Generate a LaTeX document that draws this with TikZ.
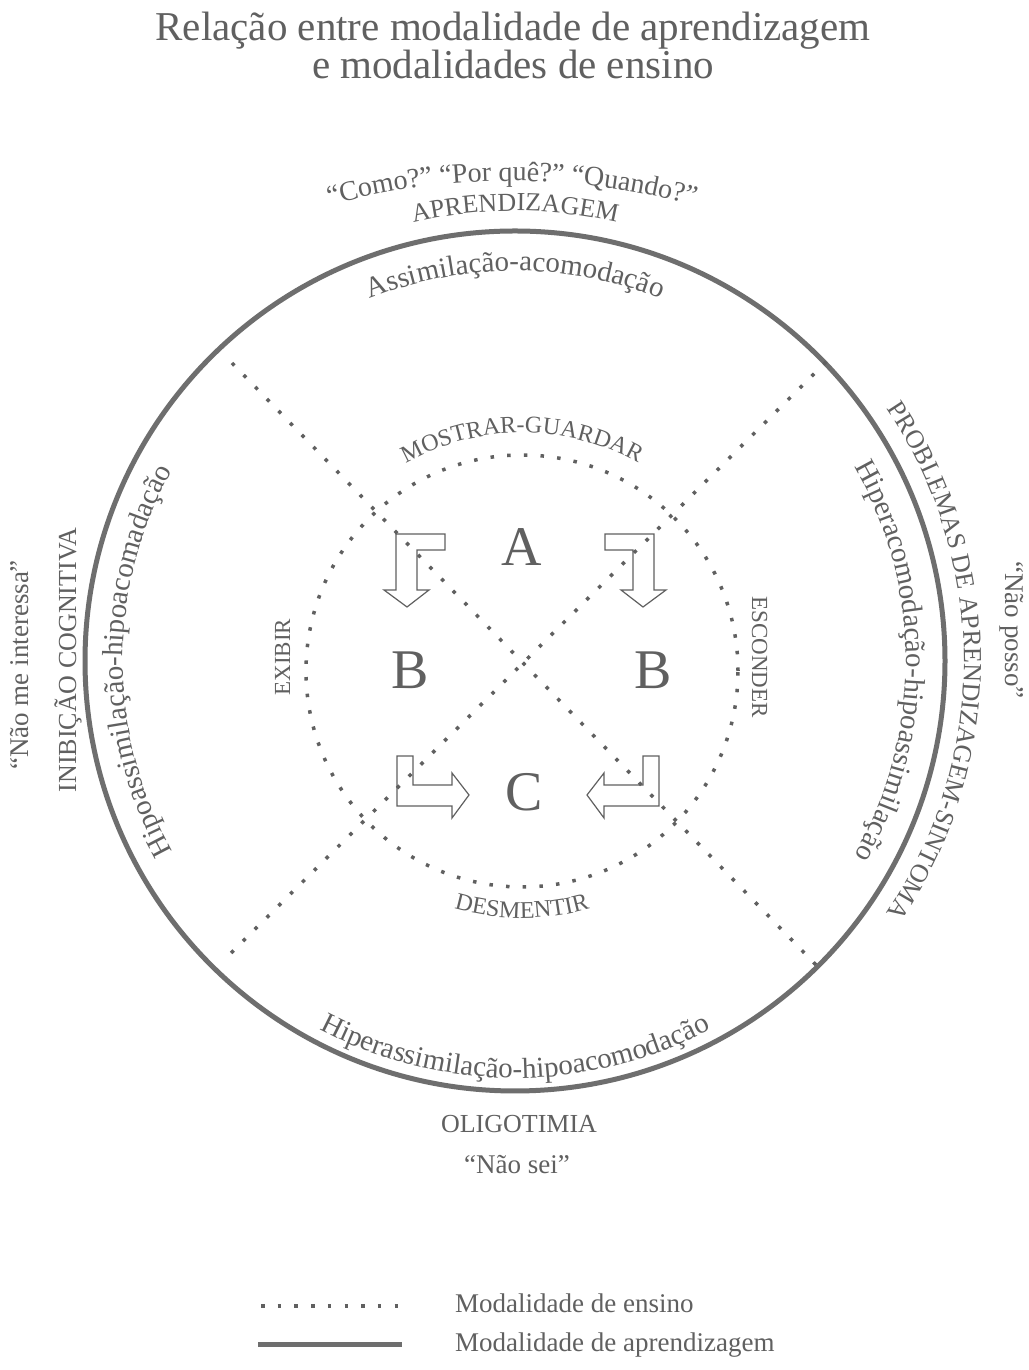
\documentclass[tikz,border=0pt]{standalone}
\usepackage{tikz}
\usepackage{fontspec}
\setmainfont{Liberation Serif}
\usetikzlibrary{decorations.text}

\definecolor{ink}{HTML}{606060}
\definecolor{rim}{HTML}{6E6E6E}

\tikzset{
    dots/.style={line width=3.5pt, dash pattern=on 3.5pt off 13.2pt, ink},
    rimline/.style={line width=5pt, rim},
    arctext/.style={decorate, decoration={text along path, text align=center, text color=ink, text={#1}}},
    textlbl/.style={text=ink, inner sep=0pt, font=\fontsize{27}{31}\selectfont},
    capslbl/.style={text=ink, inner sep=0pt, font=\fontsize{26}{30}\selectfont},
    biglbl/.style={text=ink, inner sep=0pt, font=\fontsize{56}{60}\selectfont},
    blockarrow/.style={draw=ink, line width=1.2pt, line join=miter},
}

\begin{document}
\begin{tikzpicture}[x=1pt, y=1pt]
    % Page
    \useasboundingbox (0,0) rectangle (1028,1370);
    \fill[white] (0,0) rectangle (1028,1370);

    % Centres
    \coordinate (O) at (515,709);
    \coordinate (I) at (522,699);
    \coordinate (Q) at (512,499);

    % Title
    \node[text=ink, inner sep=0pt, font=\fontsize{41}{37}\selectfont, align=center, anchor=north] (title) at (513,1358)
        {Relação entre modalidade de aprendizagem\\e modalidades de ensino};

    % Learning modality (outer circle)
    \draw[rimline] (O) circle[radius=430];

    % Teaching modality (inner circle and diagonals)
    \draw[dots] (I) circle[radius=216];
    \coordinate (tl) at (232,1007);
    \coordinate (br) at (818,403);
    \coordinate (tr) at (826,1008);
    \coordinate (bl) at (225,411);
    \draw[dots] (tl) -- (br);
    \draw[dots] (tr) -- (bl);

    % Block arrows
    \draw[blockarrow] (396,836) -- (445,836) -- (445,820) -- (417,820) -- (417,780) -- (429,780) -- (407,763) -- (384,780) -- (396,780) -- cycle;
    \draw[blockarrow] (654,836) -- (605,836) -- (605,820) -- (633,820) -- (633,780) -- (621,780) -- (643,763) -- (666,780) -- (654,780) -- cycle;
    \draw[blockarrow] (397,614) -- (413,614) -- (413,585) -- (452,585) -- (452,597) -- (469,575) -- (452,552) -- (452,564) -- (397,564) -- cycle;
    \draw[blockarrow] (659,614) -- (643,614) -- (643,585) -- (604,585) -- (604,597) -- (587,575) -- (604,552) -- (604,564) -- (659,564) -- cycle;

    % Letters
    \node[biglbl, anchor=base] (A) at (522,804) {A};
    \node[biglbl, anchor=base] (Bl) at (410,681) {B};
    \node[biglbl, anchor=base] (Br) at (653,681) {B};
    \node[biglbl, anchor=base] (C) at (524,559) {C};

    % Top
    \path[arctext={|\fontsize{28}{28}\selectfont|“Como?” “Por quê?” “Quando?”}]
        ([shift={(Q)}]115:690) arc[start angle=115, end angle=65, radius=690];
    \path[arctext={|\fontsize{26}{26}\selectfont|APRENDIZAGEM}]
        ([shift={(O)}]150:450) arc[start angle=150, end angle=30, radius=450];
    \path[arctext={|\fontsize{29}{29}\selectfont|Assimilação-acomodação}]
        ([shift={(O)}]150:390) arc[start angle=150, end angle=30, radius=390];

    % Left
    \path[arctext={|\fontsize{29}{29}\selectfont|Hipoassimilação-hipoacomadação}]
        ([shift={(O)}]240:392) arc[start angle=240, end angle=120, radius=392];
    \node[capslbl, rotate=90, anchor=base] (inib) at (76,710) {INIBIÇÃO COGNITIVA};
    \node[textlbl, rotate=90, anchor=base] (naointer) at (28,705) {“Não me interessa”};

    % Right
    \path[arctext={|\fontsize{26}{26}\selectfont|PROBLEMAS DE APRENDIZAGEM-SINTOMA}]
        ([shift={(O)}]60:449) arc[start angle=60, end angle=-60, radius=449];
    \path[arctext={|\fontsize{29}{29}\selectfont|Hiperacomodação-hipoassimilação}]
        ([shift={(O)}]60:391) arc[start angle=60, end angle=-60, radius=391];
    \node[textlbl, rotate=-90, anchor=base] (naoposso) at (1005,740) {“Não posso”};

    % Bottom
    \path[arctext={|\fontsize{29}{29}\selectfont|Hiperassimilação-hipoacomodação}]
        ([shift={(O)}]210:417) arc[start angle=210, end angle=330, radius=417];
    \node[capslbl, anchor=base] (olig) at (519,237) {OLIGOTIMIA};
    \node[textlbl, anchor=base] (naosei) at (517,196) {“Não sei”};

    % Inner circle labels
    \path[arctext={|\fontsize{24}{24}\selectfont|MOSTRAR-GUARDAR}]
        ([shift={(I)}]150:238) arc[start angle=150, end angle=30, radius=238];
    \path[arctext={|\fontsize{24}{24}\selectfont|DESMENTIR}]
        ([shift={(I)}]210:247) arc[start angle=210, end angle=330, radius=247];
    \node[capslbl, font=\fontsize{23}{27}\selectfont, rotate=90, anchor=base] (exibir) at (290,713) {EXIBIR};
    \node[capslbl, font=\fontsize{23}{27}\selectfont, rotate=-90, anchor=base] (esconder) at (752,713) {ESCONDER};

    % Legend
    \coordinate (d0) at (261,64);
    \coordinate (d1) at (405,64);
    \draw[dots] (d0) -- (d1);
    \coordinate (s0) at (258,25);
    \coordinate (s1) at (402,25);
    \draw[rimline] (s0) -- (s1);
    \node[textlbl, anchor=base west] (ensino) at (455,57) {Modalidade de ensino};
    \node[textlbl, anchor=base west] (aprend) at (455,18) {Modalidade de aprendizagem};
\end{tikzpicture}
\end{document}
